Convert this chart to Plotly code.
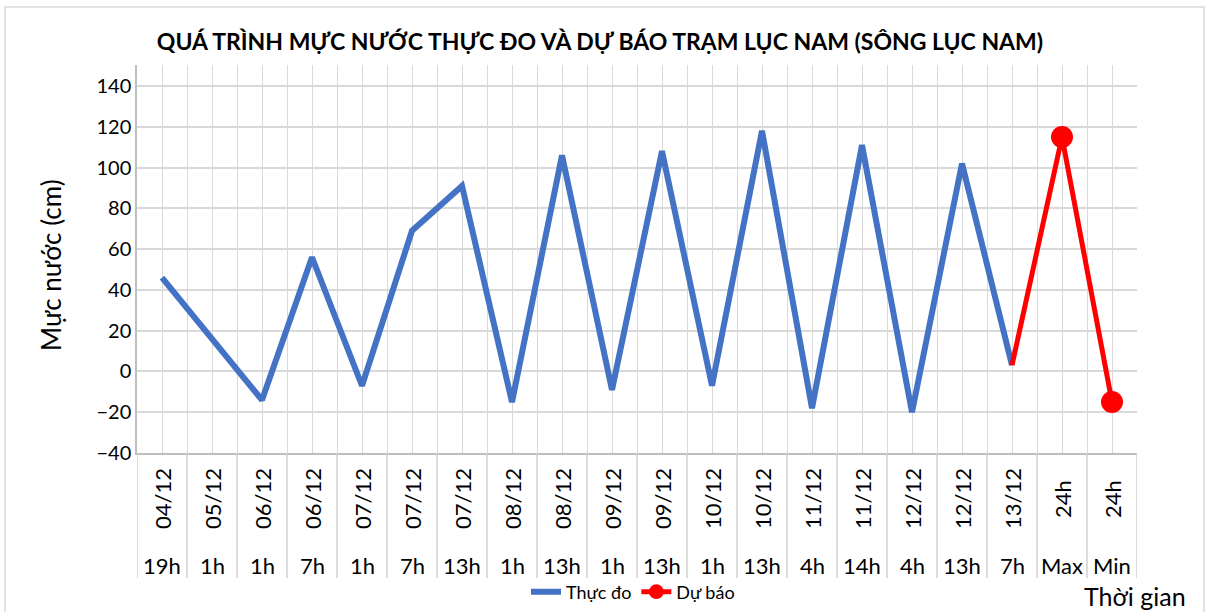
import plotly.graph_objects as go

dates = ["04/12", "05/12", "06/12", "06/12", "07/12", "07/12", "07/12", "08/12", "08/12", "09/12",
         "09/12", "10/12", "10/12", "11/12", "11/12", "12/12", "12/12", "13/12", "24h", "24h"]
hours = ["19h", "1h", "1h", "7h", "1h", "7h", "13h", "1h", "13h", "1h",
         "13h", "1h", "13h", "4h", "14h", "4h", "13h", "7h", "Max", "Min"]
observed = [46, 16, -14, 56, -7, 69, 91, -15, 106, -9, 108, -7, 118, -18, 111, -20, 102, 3]
forecast = [3, 115, -15]
forecast_idx = [17, 18, 19]

FONT = "Lato"
W, H = 1207, 612
L, R, T, B = 137, 1137, 65, 453
pw, ph = R - L, B - T

def px(x):
    return (x - L) / pw

def py(y):
    return (B - y) / ph

fig = go.Figure()
fig.add_trace(go.Scatter(
    x=list(range(len(observed))), y=observed, mode="lines", name="Thực đo",
    line=dict(color="#4472C4", width=6)))
fig.add_trace(go.Scatter(
    x=forecast_idx, y=forecast, mode="lines+markers", name="Dự báo",
    line=dict(color="#FF0000", width=5),
    marker=dict(size=[0, 22, 22], color="#FF0000", opacity=1, line=dict(width=0))))

shapes = []
for k in range(len(dates) + 1):
    shapes.append(dict(type="line", xref="x", yref="paper", x0=k - 0.5, x1=k - 0.5,
                       y0=0, y1=py(578), line=dict(color="#d0d0d0", width=1.5)))
shapes.append(dict(type="rect", xref="paper", yref="paper", x0=px(5), x1=px(1204),
                   y0=py(620), y1=py(7), line=dict(color="#d9d9d9", width=1.5)))

annotations = []
for i, (d, h) in enumerate(zip(dates, hours)):
    annotations.append(dict(x=i, y=py(499), xref="x", yref="paper", text=d, textangle=-90,
                            xanchor="center", yanchor="middle",
                            showarrow=False, font=dict(family=FONT, size=22, color="#000")))
    annotations.append(dict(x=i, y=py(565), xref="x", yref="paper", text=h,
                            xanchor="center", yanchor="middle",
                            showarrow=False, font=dict(family=FONT, size=22, color="#000")))
annotations.append(dict(x=px(51), y=py(265), xref="paper", yref="paper", text="Mực nước (cm)",
                        xanchor="center", yanchor="middle",
                        textangle=-90, showarrow=False, font=dict(family=FONT, size=26, color="#000")))
annotations.append(dict(x=px(1135), y=py(596), xref="paper", yref="paper", text="Thời gian",
                        xanchor="center", yanchor="middle",
                        showarrow=False, font=dict(family=FONT, size=25, color="#000")))

fig.update_layout(
    width=W, height=H,
    margin=dict(l=L, r=W - R, t=T, b=H - B, autoexpand=False),
    paper_bgcolor="white", plot_bgcolor="white",
    title=dict(text="<b>QUÁ TRÌNH MỰC NƯỚC THỰC ĐO VÀ DỰ BÁO TRẠM LỤC NAM (SÔNG LỤC NAM)</b>",
               x=600 / W, xanchor="center", y=1 - 42 / H, yanchor="middle",
               font=dict(family=FONT, size=23, color="#000")),
    xaxis=dict(range=[-0.5, len(dates) - 0.5], tickvals=[k * 0.5 - 0.5 for k in range(2 * len(dates) + 1)],
               showticklabels=False, showgrid=True, gridcolor="#d9d9d9", gridwidth=1,
               zeroline=False, showline=True, linecolor="#bfbfbf", linewidth=1.5, ticks=""),
    yaxis=dict(range=[-40, 150.3], tickvals=list(range(-40, 141, 20)),
               showgrid=True, gridcolor="#d9d9d9", gridwidth=1.5, zeroline=False,
               showline=True, linecolor="#bfbfbf", linewidth=1.5, ticks="",
               tickfont=dict(family=FONT, size=20, color="#000")),
    legend=dict(orientation="h", x=px(633), xanchor="center", y=py(592), yanchor="middle",
                font=dict(family=FONT, size=18, color="#000"), bgcolor="rgba(0,0,0,0)"),
    shapes=shapes, annotations=annotations,
)

fig.write_html("out.html", config={"displayModeBar": False},
               post_script="document.body.style.margin='0';document.body.style.overflow='hidden';")
